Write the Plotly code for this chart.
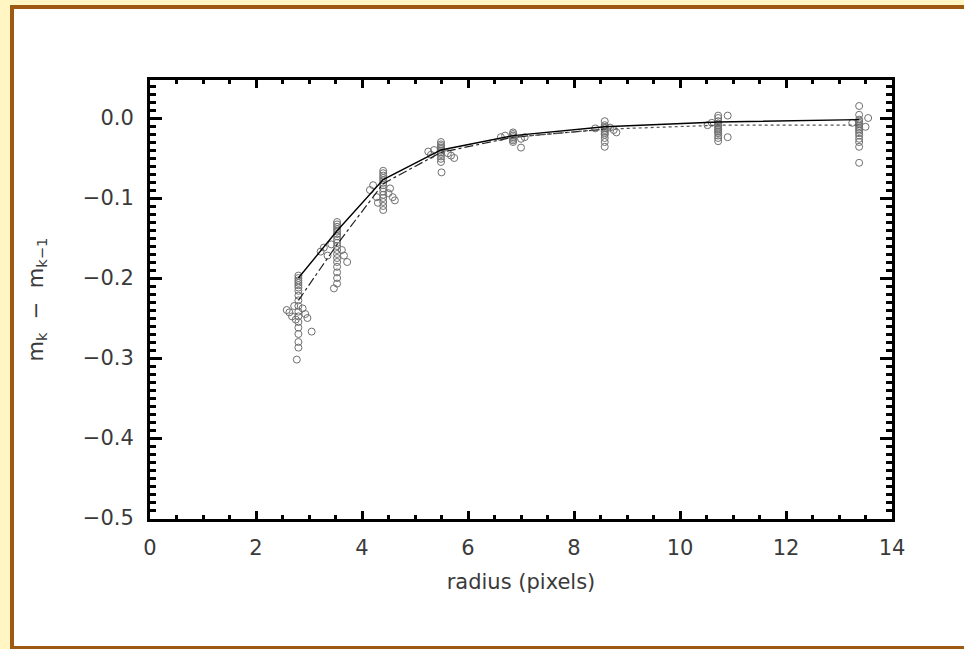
import plotly.graph_objects as go

# ---- data ----
line_r = [2.80, 3.53, 4.40, 5.49, 6.85, 8.58, 10.72, 13.38]
solid_v = [-0.200, -0.141, -0.077, -0.040, -0.022, -0.011, -0.005, -0.002]
dashdot_r = [2.80, 3.53, 4.40, 5.49, 6.85, 8.58]
dashdot_v = [-0.228, -0.158, -0.082, -0.043, -0.024, -0.014]
dotted_r = [6.85, 8.58, 10.72, 13.38]
dotted_v = [-0.024, -0.014, -0.009, -0.009]

# scatter clusters (radius, value)
c1_r = [2.80]*17 + [2.58, 2.63, 2.68, 2.72, 2.75, 2.88, 2.93, 2.97, 3.05, 2.77]
c1_v = [-0.197, -0.200, -0.203, -0.206, -0.209, -0.212, -0.216, -0.222, -0.228, -0.235,
        -0.242, -0.248, -0.255, -0.262, -0.270, -0.280, -0.287,
        -0.240, -0.243, -0.248, -0.235, -0.252, -0.238, -0.245, -0.250, -0.267, -0.302]
c2_r = [3.53]*17 + [3.22, 3.28, 3.35, 3.42, 3.62, 3.66, 3.72, 3.47, 3.53]
c2_v = [-0.130, -0.133, -0.136, -0.139, -0.142, -0.145, -0.148, -0.152, -0.156, -0.160,
        -0.165, -0.170, -0.175, -0.180, -0.186, -0.193, -0.200,
        -0.167, -0.162, -0.172, -0.158, -0.165, -0.172, -0.180, -0.213, -0.207]
c3_r = [4.40]*14 + [4.15, 4.21, 4.28, 4.30, 4.53, 4.58, 4.62, 4.50]
c3_v = [-0.066, -0.069, -0.072, -0.075, -0.078, -0.081, -0.084, -0.088, -0.092, -0.096,
        -0.100, -0.105, -0.110, -0.115,
        -0.090, -0.084, -0.099, -0.106, -0.088, -0.099, -0.103, -0.094]
c4_r = [5.49]*11 + [5.25, 5.30, 5.36, 5.62, 5.68, 5.74, 5.50]
c4_v = [-0.030, -0.033, -0.035, -0.037, -0.039, -0.041, -0.043, -0.045, -0.048, -0.051,
        -0.055, -0.042, -0.046, -0.040, -0.044, -0.047, -0.050, -0.068]
c5_r = [6.85]*7 + [6.62, 6.70, 7.00, 7.07, 7.00]
c5_v = [-0.018, -0.020, -0.022, -0.024, -0.026, -0.028, -0.030,
        -0.024, -0.022, -0.026, -0.024, -0.037]
c6_r = [8.58]*11 + [8.40, 8.75, 8.80, 8.68]
c6_v = [-0.004, -0.009, -0.011, -0.013, -0.015, -0.017, -0.019, -0.021, -0.025, -0.030,
        -0.036, -0.013, -0.015, -0.018, -0.012]
c7_r = [10.72]*13 + [10.90, 10.90, 10.52, 10.60]
c7_v = [0.003, 0.000, -0.004, -0.007, -0.009, -0.011, -0.013, -0.015, -0.017, -0.019,
        -0.022, -0.025, -0.029, 0.003, -0.024, -0.009, -0.006]
c8_r = [13.38]*16 + [13.55, 13.50, 13.25]
c8_v = [0.015, 0.004, -0.002, -0.004, -0.006, -0.008, -0.010, -0.012, -0.014, -0.016,
        -0.019, -0.022, -0.026, -0.030, -0.036, -0.056, 0.000, -0.011, -0.006]

x_ticks = [0, 2, 4, 6, 8, 10, 12, 14]
y_ticks = [-0.5, -0.4, -0.3, -0.2, -0.1, 0.0]

pts_r = c1_r + c2_r + c3_r + c4_r + c5_r + c6_r + c7_r + c8_r
pts_v = c1_v + c2_v + c3_v + c4_v + c5_v + c6_v + c7_v + c8_v

fig = go.Figure()
fig.add_trace(go.Scatter(x=pts_r, y=pts_v, mode="markers",
                         marker=dict(symbol="circle-open", size=7, color="#707070",
                                     line=dict(width=1, color="#707070")),
                         showlegend=False, hoverinfo="skip"))
fig.add_trace(go.Scatter(x=line_r, y=solid_v, mode="lines",
                         line=dict(color="black", width=1.4), showlegend=False))
fig.add_trace(go.Scatter(x=dashdot_r, y=dashdot_v, mode="lines",
                         line=dict(color="#222", width=1.2, dash="dashdot"), showlegend=False))
fig.add_trace(go.Scatter(x=dotted_r, y=dotted_v, mode="lines",
                         line=dict(color="#555", width=1.2, dash="dot"), showlegend=False))

W, H = 964, 649
ml, mr, mt, mb = 150, 72, 80, 130
pw, ph = W - ml - mr, H - mt - mb

def px_x(p):
    return (p - ml) / pw

def px_y(p):
    return (H - mb - p) / ph

brown = "#9E5A12"
# white panel (extends past the right edge, as in the cropped reference)
fig.add_shape(type="rect", xref="paper", yref="paper",
              x0=px_x(12), x1=px_x(W + 40), y0=px_y(H + 10), y1=px_y(7),
              line=dict(width=0), fillcolor="white", layer="below")
# brown frame (left, top, bottom)
for (a, b, c, d) in [(12, 5, 12, 650), (10, 7, W + 40, 7), (10, 648, W + 40, 648)]:
    fig.add_shape(type="line", xref="paper", yref="paper",
                  x0=px_x(a), y0=px_y(b), x1=px_x(c), y1=px_y(d),
                  line=dict(color=brown, width=4), layer="below")

font = dict(family="DejaVu Sans", size=21, color="#3a3a3a")
title_font = dict(family="DejaVu Sans", size=21, color="#3a3a3a")
axis_common = dict(showline=True, linecolor="black", linewidth=3, mirror="allticks",
                   ticks="inside", tickcolor="black", tickwidth=2.5,
                   showgrid=False, zeroline=False, tickfont=font)

fig.update_xaxes(range=[0, 14], tickvals=x_ticks, ticklen=8, ticklabelstandoff=8,
                 minor=dict(dtick=0.5, ticks="inside", ticklen=4, tickcolor="black", tickwidth=2.5),
                 title=dict(text="radius (pixels)", font=title_font, standoff=16),
                 **axis_common)
fig.update_yaxes(range=[-0.50125, 0.0475], tickvals=y_ticks, tickformat=".1f", ticklen=12,
                 ticklabelstandoff=9,
                 minor=dict(dtick=0.01, ticks="inside", ticklen=6, tickcolor="black", tickwidth=2.5),
                 title=dict(text="m<sub>k</sub>  −  m<sub>k−1</sub>", font=title_font, standoff=34),
                 **axis_common)

fig.update_layout(width=W, height=H, margin=dict(l=ml, r=mr, t=mt, b=mb),
                  paper_bgcolor="#FFF6C4", plot_bgcolor="white")

fig.write_html("out.html", config={"displayModeBar": False},
               post_script="document.body.style.margin='0px';document.body.style.overflow='hidden';")
